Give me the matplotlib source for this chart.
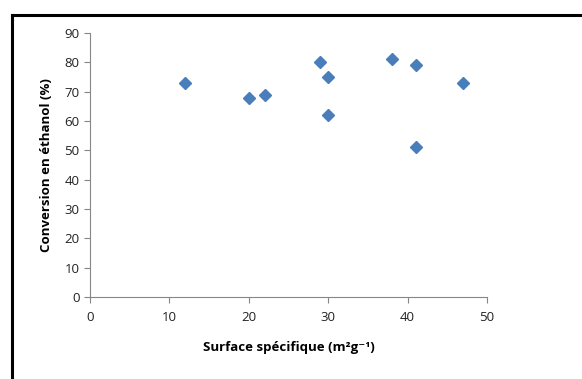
import matplotlib
matplotlib.use("Agg")
import matplotlib.pyplot as plt
from matplotlib.lines import Line2D

surface = [12, 20, 22, 29, 30, 30, 38, 41, 41, 47]
conversion = [73, 68, 69, 80, 75, 62, 81, 79, 51, 73]
xticks = [0, 10, 20, 30, 40, 50]
yticks = [0, 10, 20, 30, 40, 50, 60, 70, 80, 90]

plt.rcParams['font.family'] = ['Open Sans', 'DejaVu Sans']

fig = plt.figure(figsize=(5.82, 3.79), dpi=100)
ax = fig.add_axes([90 / 582, 1 - 297 / 379, 397 / 582, 264 / 379])

ax.plot(surface, conversion, linestyle='none', marker='D', markersize=6.6,
        color='#4a7ebb', markeredgecolor='#4a7ebb')

ax.set_xlim(0, 50)
ax.set_ylim(0, 90)
ax.set_xticks(xticks)
ax.set_yticks(yticks)
ax.tick_params(labelsize=9.5, colors='#868686', labelcolor='#222222',
               length=4, width=0.8, direction='out')
ax.tick_params(axis='x', pad=6)
for side in ['top', 'right']:
    ax.spines[side].set_visible(False)
for side in ['left', 'bottom']:
    ax.spines[side].set_color('#868686')
    ax.spines[side].set_linewidth(0.8)

ax.set_xlabel('Surface spécifique (m²g⁻¹)', fontsize=9.5, fontweight='bold',
              labelpad=12)
ax.set_ylabel('Conversion en éthanol (%)', fontsize=9.5, fontweight='bold',
              labelpad=8)

# black frame of the pasted chart (top and left edges visible)
fig.add_artist(Line2D([11.5 / 582, 1.0], [1 - 15 / 379, 1 - 15 / 379],
                      transform=fig.transFigure, color='black', linewidth=2.2))
fig.add_artist(Line2D([11.5 / 582, 11.5 / 582], [0.0, 1 - 15 / 379],
                      transform=fig.transFigure, color='black', linewidth=2.2))

fig.savefig('out.png', dpi=100)
